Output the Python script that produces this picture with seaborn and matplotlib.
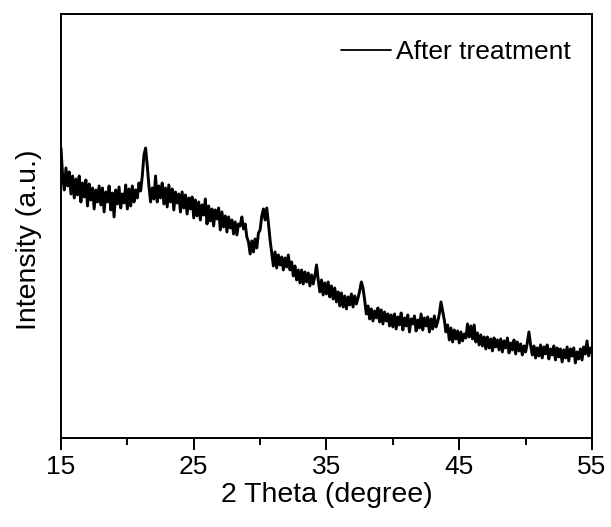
import matplotlib
matplotlib.use("Agg")
import matplotlib.pyplot as plt
from matplotlib.ticker import MultipleLocator
import numpy as np
import pandas as pd
import seaborn as sns

# 2-theta grid (degrees) and intensity (arbitrary units)
two_theta_start = 15.0
two_theta_step = 0.125
intensity = [
    # 15
    290, 262, 248, 270, 252, 266, 244, 262,
    # 16
    240, 259, 243, 262, 236, 255, 241, 258,
    # 17
    232, 254, 238, 250, 229, 248, 236, 252,
    # 18
    233, 250, 226, 246, 236, 252, 228, 245,
    # 19
    221, 248, 234, 251, 230, 244, 235, 253,
    # 20
    229, 249, 232, 252, 236, 248, 240, 255,
    # 21
    247, 262, 283, 290, 272, 252, 236, 250,
    # 22
    239, 262, 236, 252, 240, 255, 234, 250,
    # 23
    231, 253, 236, 249, 228, 246, 235, 244,
    # 24
    226, 246, 230, 243, 224, 240, 229, 241,
    # 25
    220, 238, 222, 236, 218, 233, 223, 239,
    # 26
    214, 232, 217, 229, 212, 228, 219, 230,
    # 27
    208, 226, 211, 222, 206, 221, 210, 218,
    # 28
    204, 216, 203, 214, 212, 221, 209, 214,
    # 29
    201, 196, 184, 197, 186, 199, 190, 205,
    # 30
    208, 222, 229, 218, 230, 215, 198, 185,
    # 31
    172, 186, 170, 183, 173, 181, 168, 180,
    # 32
    171, 183, 168, 176, 162, 172, 158, 168,
    # 33
    155, 168, 154, 166, 156, 165, 152, 163,
    # 34
    154, 162, 173, 158, 146, 158, 143, 155,
    # 35
    144, 156, 141, 152, 139, 150, 136, 146,
    # 36
    132, 145, 131, 142, 129, 141, 133, 144,
    # 37
    131, 142, 134, 140, 147, 156, 150, 138,
    # 38
    124, 132, 119, 129, 117, 127, 120, 130,
    # 39
    116, 128, 114, 126, 117, 124, 112, 123,
    # 40
    111, 124, 109, 121, 113, 125, 108, 120,
    # 41
    112, 123, 106, 119, 114, 122, 107, 118,
    # 42
    110, 124, 108, 120, 112, 121, 106, 119,
    # 43
    109, 122, 111, 116, 124, 136, 127, 118,
    # 44
    106, 113, 98, 110, 96, 108, 99, 107,
    # 45
    95, 106, 97, 104, 100, 114, 101, 112,
    # 46
    99, 113, 96, 105, 93, 103, 92, 101,
    # 47
    89, 101, 90, 99, 87, 100, 91, 98,
    # 48
    88, 99, 86, 97, 90, 100, 85, 95,
    # 49
    88, 98, 84, 96, 87, 94, 83, 92,
    # 50
    86, 95, 106, 93, 83, 92, 80, 90,
    # 51
    82, 93, 80, 91, 84, 93, 79, 89,
    # 52
    83, 92, 78, 90, 81, 89, 76, 88,
    # 53
    80, 91, 77, 89, 82, 90, 75, 86,
    # 54
    79, 89, 78, 91, 84, 97, 82, 90,
    # 55
    85,
]
two_theta = [two_theta_start + i * two_theta_step for i in range(len(intensity))]
series_label = "After treatment"
x_ticks = [15, 25, 35, 45, 55]
x_label = "2 Theta (degree)"
y_label = "Intensity (a.u.)"

df = pd.DataFrame({"two_theta": two_theta, "intensity": intensity})

sns.set_style("ticks")
plt.rcParams["font.family"] = ["Liberation Sans", "DejaVu Sans"]
plt.rcParams["text.color"] = "black"
plt.rcParams["axes.labelcolor"] = "black"

fig = plt.figure(figsize=(6.11, 5.27), dpi=100)
ax = fig.add_axes([0.0998, 0.169, 0.8691, 0.8035])

sns.lineplot(data=df, x="two_theta", y="intensity", ax=ax, color="black",
             linewidth=2.1, label=series_label, estimator=None)

ax.set_xlim(15, 55)
ax.set_ylim(0, 423.5)
ax.set_xticks(x_ticks)
ax.set_xticklabels([str(t) for t in x_ticks])
ax.xaxis.set_minor_locator(MultipleLocator(5))
ax.set_yticks([])

for s in ax.spines.values():
    s.set_visible(True)
    s.set_linewidth(1.4)
    s.set_color("black")

ax.tick_params(axis="x", which="major", direction="out", length=8.6, width=1.4,
               labelsize=19, pad=3.5, colors="black", bottom=True, top=False)
ax.tick_params(axis="x", which="minor", direction="out", length=4.7, width=1.4,
               colors="black", bottom=True, top=False)
ax.tick_params(axis="y", left=False, right=False, labelleft=False)

ax.set_xlabel(x_label, fontsize=20.5, labelpad=2, color="black")
ax.set_ylabel(y_label, fontsize=20.5, color="black")
ax.yaxis.set_label_coords(-0.036, 0.467)

leg = ax.legend(loc="center right", bbox_to_anchor=(0.96, 0.911), frameon=False,
                fontsize=19, handlelength=1.9, handletextpad=0.2,
                borderpad=0, borderaxespad=0, labelcolor="black")
for line in leg.get_lines():
    line.set_linewidth(1.3)

fig.savefig("out.png", dpi=100, facecolor="white")
